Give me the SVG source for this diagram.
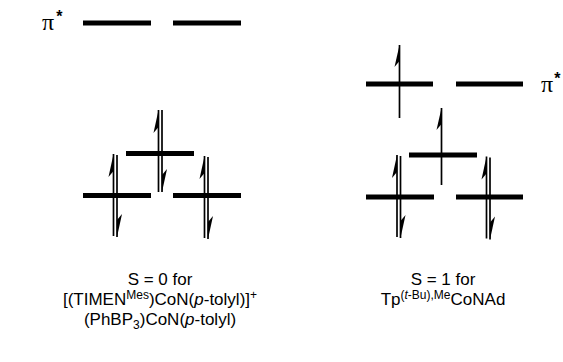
<svg xmlns="http://www.w3.org/2000/svg" width="563" height="362" viewBox="0 0 563 362">
<style>
.bar{stroke:#000;stroke-width:5;fill:none}
.ln{stroke:#000;stroke-width:1.7;fill:none}
.hd{fill:#000;stroke:none}
.t{font-family:"Liberation Sans",Arial,sans-serif;font-size:17px;fill:#000;text-anchor:middle}
.sup{font-size:12px}
.pi{font-family:"Liberation Serif","Times New Roman",serif;font-size:24px;fill:#000}
.st{font-family:"Liberation Sans",Arial,sans-serif;font-size:16px;font-weight:bold;fill:#000}
</style>
<rect width="563" height="362" fill="#fff"/>
<defs>
<g id="up"><line class="ln" x1="0" y1="0" x2="0" y2="82"/><polygon class="hd" points="0,0 -5,23 0,17"/></g>
<g id="dn"><line class="ln" x1="0" y1="0" x2="0" y2="82"/><polygon class="hd" points="0,82 5,59 0,65"/></g>
</defs>
<g id="left-diagram">
<g id="pi-left-label"><text class="pi" x="42" y="30">π<tspan class="st" dx="2" dy="-8">*</tspan></text></g>
<g id="L-pistar1"><line class="bar" x1="83" y1="23" x2="151" y2="23"/></g>
<g id="L-pistar2"><line class="bar" x1="173" y1="23" x2="241" y2="23"/></g>
<g id="L-center"><line class="bar" x1="126" y1="153.5" x2="194" y2="153.5"/><use href="#up" x="158.5" y="110"/><use href="#dn" x="162" y="110"/></g>
<g id="L-low1"><line class="bar" x1="83" y1="195.5" x2="151" y2="195.5"/><use href="#up" x="113.5" y="154"/><use href="#dn" x="117" y="155"/></g>
<g id="L-low2"><line class="bar" x1="173" y1="195.5" x2="241" y2="195.5"/><use href="#up" x="204.5" y="156"/><use href="#dn" x="208" y="157"/></g>
<g id="L-text">
<text class="t" x="160" y="285">S = 0 for</text>
<text class="t" x="160" y="305">[(TIMEN<tspan class="sup" dy="-6">Mes</tspan><tspan dy="6">)CoN(</tspan><tspan font-style="italic">p</tspan>-tolyl)]<tspan class="sup" dy="-6">+</tspan></text>
<text class="t" x="160" y="325">(PhBP<tspan class="sup" dy="4">3</tspan><tspan dy="-4">)CoN(</tspan><tspan font-style="italic">p</tspan>-tolyl)</text>
</g>
</g>
<g id="right-diagram">
<g id="pi-right-label"><text class="pi" x="541" y="92">π<tspan class="st" dx="1" dy="-8">*</tspan></text></g>
<g id="R-pistar1"><line class="bar" x1="366" y1="84" x2="433" y2="84"/><line class="ln" x1="399.5" y1="45" x2="399.5" y2="118"/><polygon class="hd" points="399.5,45 394.5,67 399.5,61"/></g>
<g id="R-pistar2"><line class="bar" x1="456" y1="84" x2="523" y2="84"/></g>
<g id="R-center"><line class="bar" x1="409" y1="155" x2="477" y2="155"/><line class="ln" x1="441.5" y1="108" x2="441.5" y2="185"/><polygon class="hd" points="441.5,108 436.5,130 441.5,124"/></g>
<g id="R-low1"><line class="bar" x1="366" y1="197" x2="434" y2="197"/><use href="#up" x="397" y="155"/><use href="#dn" x="400.5" y="156"/></g>
<g id="R-low2"><line class="bar" x1="456" y1="197" x2="523" y2="197"/><use href="#up" x="486.5" y="156.5"/><use href="#dn" x="490" y="157.5"/></g>
<g id="R-text">
<text class="t" x="443" y="285">S = 1 for</text>
<text class="t" x="443" y="305">Tp<tspan class="sup" dy="-6">(</tspan><tspan class="sup" font-style="italic">t</tspan><tspan class="sup">-Bu),Me</tspan><tspan dy="6">CoNAd</tspan></text>
</g>
</g>
</svg>
